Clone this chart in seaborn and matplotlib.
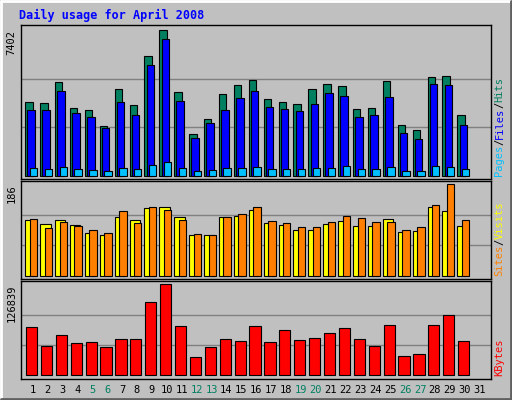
import matplotlib
matplotlib.use("Agg")
import matplotlib.pyplot as plt
import seaborn as sns
import numpy as np

days = list(range(1, 31))
day_labels = [str(d) for d in range(1, 32)]
weekend = [5, 6, 12, 13, 19, 20, 26, 27]
hits = [3735, 3684, 4749, 3431, 3329, 2518, 4394, 3583, 6067, 7402, 4242, 2113, 2873, 4141, 4597,
        4850, 3887, 3735, 3634, 4394, 4648, 4546, 3380, 3431, 4800, 2569, 2315, 5002, 5053, 3076]
files = [3329, 3329, 4293, 3177, 2974, 2417, 3735, 3076, 5611, 6929, 3786, 1910, 2670, 3329, 3938,
         4293, 3481, 3380, 3279, 3634, 4191, 4039, 2974, 3076, 3988, 2163, 1859, 4648, 4597, 2569]
pages = [389, 338, 439, 338, 287, 237, 389, 338, 541, 693, 389, 237, 287, 389, 389,
         439, 338, 338, 338, 389, 389, 490, 338, 338, 439, 237, 237, 490, 439, 338]
sites = [114, 105, 114, 103, 87, 83, 120, 114, 138, 140, 120, 83, 83, 120, 122,
         134, 107, 103, 93, 93, 105, 112, 101, 101, 116, 89, 91, 140, 132, 101]
visits = [116, 97, 110, 101, 93, 87, 132, 107, 140, 134, 114, 85, 83, 120, 126,
          140, 112, 107, 99, 99, 110, 122, 118, 110, 110, 93, 99, 144, 186, 114]
kbytes = [67370, 40886, 56220, 45070, 46460, 39490, 50640, 50640, 102210, 126839, 68760, 25550, 39490, 50640, 47850,
          68760, 46460, 63180, 49250, 52030, 59000, 65970, 50640, 40886, 70150, 26950, 29730, 70150, 84090, 47850]

sns.set_style("white")
plt.rcParams['font.family'] = ['DejaVu Sans Mono', 'DejaVu Sans']
BG = "#c0c0c0"
fig = plt.figure(figsize=(5.12, 4.0), dpi=100, facecolor=BG)

# outer bevel
fig.add_artist(plt.Line2D([0.002, 0.998], [0.998, 0.998], color="white", lw=2, transform=fig.transFigure))
fig.add_artist(plt.Line2D([0.002, 0.002], [0.002, 0.998], color="white", lw=2, transform=fig.transFigure))
fig.add_artist(plt.Line2D([0.002, 0.998], [0.002, 0.002], color="#606060", lw=2, transform=fig.transFigure))
fig.add_artist(plt.Line2D([0.998, 0.998], [0.002, 0.998], color="#606060", lw=2, transform=fig.transFigure))

fig.text(0.037, 0.962, "Daily usage for April 2008", color="#0000ff", fontsize=8.5,
         fontweight="bold", va="center", ha="left")

rects = [(0.041, 0.5525, 0.918, 0.385), (0.041, 0.3025, 0.918, 0.245), (0.041, 0.0525, 0.918, 0.245)]
axes = [fig.add_axes(r) for r in rects]
d = np.array(days)
W = 0.5

def style(ax, vmax, ytop, ybot, label):
    ax.set_facecolor(BG)
    ax.set_xlim(0.215, 31.76)
    ax.set_ylim(ybot, ytop)
    for fr in (1/3, 2/3):
        ax.axhline(vmax * fr, color="#808080", lw=1, zorder=0)
    ax.set_yticks([]); ax.set_xticks([])
    for s in ax.spines.values():
        s.set_color("black"); s.set_linewidth(1)
    ax.text(-0.02, 1 - (ytop - vmax) / (ytop - ybot), label, rotation=90, transform=ax.transAxes,
            ha="center", va="top", fontsize=7.5, color="black")

ek = dict(edgecolor="black", linewidth=0.8)
a = axes[0]
a.bar(d - 0.5, hits, width=W, align="edge", color="#008060", **ek, zorder=2)
a.bar(d - 0.35, files, width=W, align="edge", color="#0000ff", **ek, zorder=3)
a.bar(d - 0.2, pages, width=W, align="edge", color="#00c0ff", **ek, zorder=4)
style(a, 7402, 7655, -152, "7402")

a = axes[1]
a.bar(d - 0.5, sites, width=0.7, align="edge", color="#ffff00", **ek, zorder=2)
a.bar(d - 0.2, visits, width=W, align="edge", color="#ff8000", **ek, zorder=3)
style(a, 186, 192, -6, "186")

a = axes[2]
a.bar(d - 0.45, kbytes, width=0.75, align="edge", color="#ff0000", **ek, zorder=2)
style(a, 126839, 131440, -5160, "126839")
a.set_xticks(range(1, 32))
a.set_xticklabels(day_labels, fontsize=7.5)
a.tick_params(axis="x", length=0, pad=4)
for lab, dd in zip(a.get_xticklabels(), range(1, 32)):
    lab.set_color("#008060" if dd in weekend else "black")

# right-side legends
def legend(ax, parts):
    y = 0.02
    for txt, col in parts:
        t = ax.text(1.018, y, txt, rotation=90, transform=ax.transAxes, ha="center", va="bottom",
                    fontsize=7.5, color=col)
        y += len(txt) * 0.0 
    return

def stacked(ax, parts, h_axes_px):
    # place successive strings upward using character count
    char = 6.2  # pixels per char
    pos = 3
    for txt, col in parts:
        ax.text(1.018, pos / h_axes_px, txt, rotation=90, transform=ax.transAxes, ha="center",
                va="bottom", fontsize=7.5, color=col)
        pos += len(txt) * char

stacked(axes[0], [("Pages", "#00c0ff"), ("/", "black"), ("Files", "#0000ff"), ("/", "black"), ("Hits", "#008060")], 154)
stacked(axes[1], [("Sites", "#ff8000"), ("/", "black"), ("Visits", "#ffff00")], 98)
stacked(axes[2], [("KBytes", "#ff0000")], 98)

fig.savefig("out.png", dpi=100, facecolor=BG)
